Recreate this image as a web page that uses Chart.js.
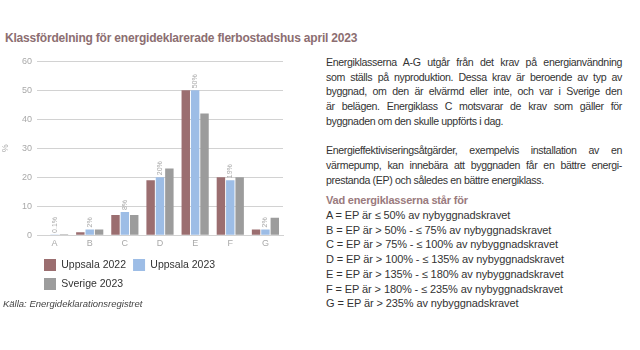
<!DOCTYPE html>
<html>
<head>
<meta charset="utf-8">
<script src="https://cdn.jsdelivr.net/npm/chart.js@4.4.1/dist/chart.umd.min.js"></script>
<style>
  html, body { margin: 0; padding: 0; background: #fff; }
  body { width: 640px; height: 350px; position: relative; overflow: hidden;
         font-family: 'Liberation Sans', Arial, sans-serif; }
  #title { position: absolute; left: 5px; top: 31px; font-size: 12px; font-weight: bold;
           letter-spacing: -0.2px; color: #8c6e71; white-space: nowrap; }
  #chartBox { position: absolute; left: 0; top: 51px; width: 300px; height: 249px; }
  #source { position: absolute; left: 3px; top: 298px; font-size: 9.5px; font-style: italic; color: #444; }
  #info { position: absolute; left: 326px; top: 55px; width: 296px; font-size: 11px;
          line-height: 14.7px; color: #333; white-space: nowrap; }
  #info .p { font-size: 10.6px; letter-spacing: -0.35px; }
  #info .j { text-align: justify; text-align-last: justify; }
  #info .gap { height: 14.7px; }
  #info .list { letter-spacing: -0.1px; }
  #info .head { color: #9a7a7d; font-weight: bold; margin-top: 6px; letter-spacing: -0.2px; }
</style>
</head>
<body>
<div id="title">Klassfördelning för energideklarerade flerbostadshus april 2023</div>
<div id="chartBox"><canvas id="chart"></canvas></div>
<div id="source">Källa: Energideklarationsregistret</div>
<div id="info">
  <div class="p">
    <div class="j">Energiklasserna A-G utgår från det krav på energianvändning</div>
    <div class="j">som ställs på nyproduktion. Dessa krav är beroende av typ av</div>
    <div class="j">byggnad, om den är elvärmd eller inte, och var i Sverige den</div>
    <div class="j">är belägen. Energiklass C motsvarar de krav som gäller för</div>
    <div>byggnaden om den skulle uppförts i dag.</div>
    <div class="gap"></div>
    <div class="j">Energieffektiviseringsåtgärder, exempelvis installation av en</div>
    <div class="j">värmepump, kan innebära att byggnaden får en bättre energi-</div>
    <div>prestanda (EP) och således en bättre energiklass.</div>
  </div>
  <div class="head">Vad energiklasserna står för</div>
  <div class="list">
    <div>A = EP är ≤ 50% av nybyggnadskravet</div>
    <div>B = EP är &gt; 50% - ≤ 75% av nybyggnadskravet</div>
    <div>C = EP är &gt; 75% - ≤ 100% av nybyggnadskravet</div>
    <div>D = EP är &gt; 100% - ≤ 135% av nybyggnadskravet</div>
    <div>E = EP är &gt; 135% - ≤ 180% av nybyggnadskravet</div>
    <div>F = EP är &gt; 180% - ≤ 235% av nybyggnadskravet</div>
    <div>G = EP är &gt; 235% av nybyggnadskravet</div>
  </div>
</div>

<script>
// energiklasser och andelar (%)
const classes     = ['A', 'B', 'C', 'D', 'E', 'F', 'G'];
const uppsala2022 = [0, 1, 7, 19, 50, 20, 2];
const uppsala2023 = [0.1, 2, 8, 20, 50, 19, 2];
const sverige2023 = [0.3, 2, 7, 23, 42, 20, 6];
const labels2023  = ['0.1%', '2%', '8%', '20%', '50%', '19%', '2%'];
const yTicks      = [0, 10, 20, 30, 40, 50, 60];

const tickColor = '#a9a9a9';
const gridColor = '#d2d2d2';

// värdeetiketter, roterade, ovanför Uppsala 2023
const barLabels = {
  id: 'barLabels',
  afterDatasetsDraw(chart) {
    const meta = chart.getDatasetMeta(1);
    const ctx = chart.ctx;
    ctx.save();
    ctx.font = "7px 'Liberation Sans', Arial, sans-serif";
    ctx.fillStyle = '#a9a9a9';
    ctx.textAlign = 'left';
    ctx.textBaseline = 'middle';
    meta.data.forEach((bar, i) => {
      ctx.save();
      ctx.translate(bar.x, bar.y - 2);
      ctx.rotate(-Math.PI / 2);
      ctx.fillText(labels2023[i], 0, 0);
      ctx.restore();
    });
    ctx.restore();
  },
};

new Chart(document.getElementById('chart'), {
  type: 'bar',
  data: {
    labels: classes,
    datasets: [
      { label: 'Uppsala 2022', data: uppsala2022, backgroundColor: '#9b6e70' },
      { label: 'Uppsala 2023', data: uppsala2023, backgroundColor: '#9dbde6' },
      { label: 'Sverige 2023', data: sverige2023, backgroundColor: '#9c9c9c' },
    ],
  },
  options: {
    responsive: true,
    maintainAspectRatio: false,
    animation: false,
    layout: { padding: { top: 6, right: 17, left: 0, bottom: 0 } },
    plugins: {
      legend: {
        position: 'bottom',
        align: 'start',
        fullSize: false,
        labels: {
          boxWidth: 12,
          boxHeight: 12,
          padding: 7,
          color: '#333',
          font: { family: "'Liberation Sans', Arial, sans-serif", size: 10.5 },
        },
      },
      tooltip: { enabled: false },
    },
    scales: {
      x: {
        grid: { display: false, drawTicks: false },
        border: { color: gridColor },
        ticks: { color: tickColor, font: { size: 9 }, padding: 3 },
      },
      y: {
        min: 0,
        max: 60,
        afterBuildTicks: axis => { axis.ticks = yTicks.map(v => ({ value: v })); },
        afterFit: axis => { axis.width = 37; },
        grid: { color: gridColor, drawTicks: false },
        border: { display: false },
        ticks: { color: tickColor, font: { size: 9 }, padding: 5 },
        title: { display: true, text: '%', color: tickColor, font: { size: 9 }, padding: 0 },
      },
    },
  },
  plugins: [barLabels],
});
</script>
</body>
</html>
